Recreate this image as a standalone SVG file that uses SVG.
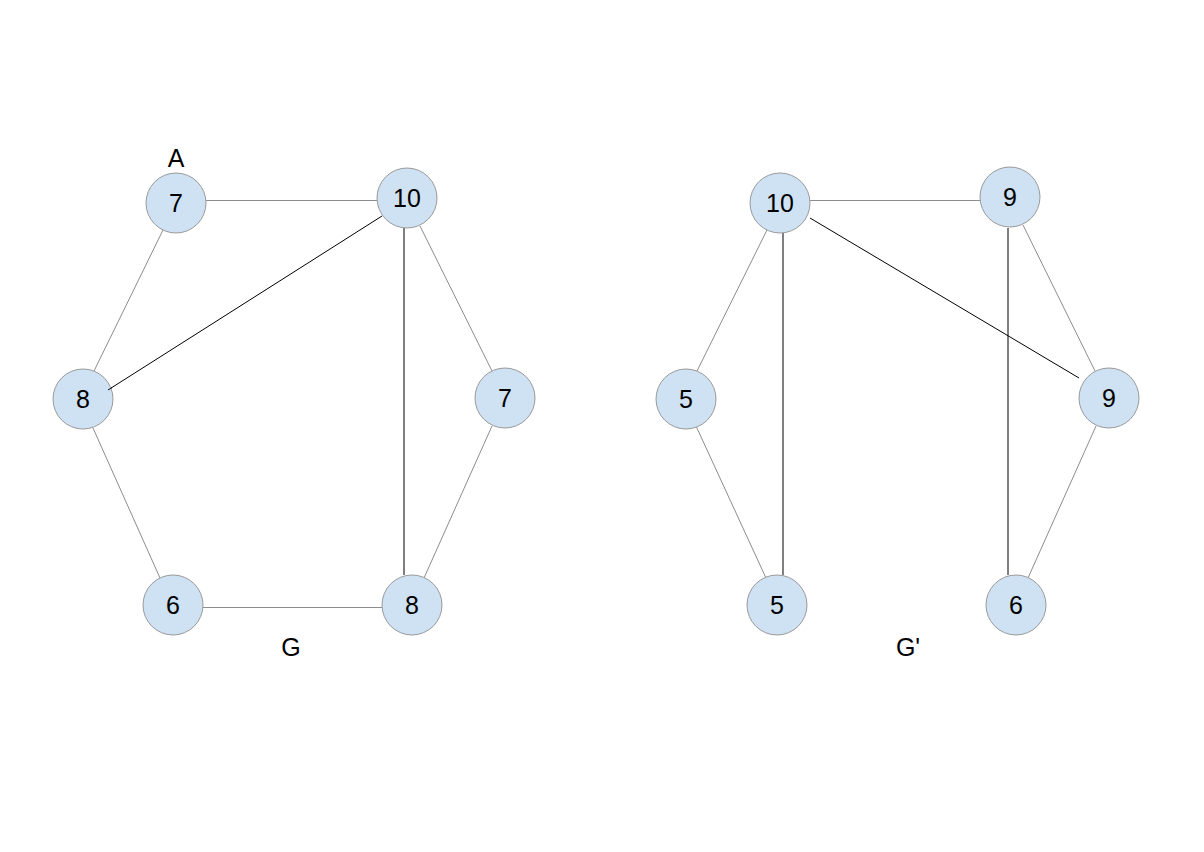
<svg xmlns="http://www.w3.org/2000/svg" width="1204" height="852" viewBox="0 0 1204 852">
<style>
.g{stroke:#8c8c8c;stroke-width:1;fill:none}
.k{stroke:#000;stroke-width:1;fill:none}
.n{fill:#cfe2f3;stroke:#999;stroke-width:1}
text{font-family:"Liberation Sans",Arial,sans-serif;font-size:25px;fill:#000;text-anchor:middle;dominant-baseline:central}
</style>
<rect width="1204" height="852" fill="#fff"/>
<g id="connectors">
<line class="g" x1="206" y1="200.5" x2="377" y2="200.5"/>
<line class="g" x1="163" y1="230" x2="94" y2="371"/>
<line class="g" x1="93" y1="428" x2="160" y2="578"/>
<line class="g" x1="203" y1="607.5" x2="382" y2="607.5"/>
<line class="g" x1="420" y1="226" x2="492" y2="371"/>
<line class="g" x1="492" y1="426" x2="424" y2="578"/>
<line class="k" x1="108" y1="390" x2="382" y2="216"/>
<line class="k" x1="404" y1="228" x2="404" y2="575"/>
<line class="g" x1="810" y1="200.5" x2="980" y2="200.5"/>
<line class="g" x1="767" y1="230" x2="697" y2="371"/>
<line class="g" x1="696" y1="426" x2="766" y2="578"/>
<line class="k" x1="783" y1="233" x2="783" y2="575"/>
<line class="k" x1="810" y1="218" x2="1079" y2="378"/>
<line class="k" x1="1008" y1="228" x2="1008" y2="575"/>
<line class="g" x1="1023" y1="225" x2="1095" y2="371"/>
<line class="g" x1="1096" y1="426" x2="1028" y2="578"/>
</g>
<g id="n1"><circle class="n" cx="176" cy="203" r="30"/><text x="176" y="203">7</text></g>
<g id="n2"><circle class="n" cx="407" cy="198" r="30"/><text x="407" y="198">10</text></g>
<g id="n3"><circle class="n" cx="83" cy="399" r="30"/><text x="83" y="399">8</text></g>
<g id="n4"><circle class="n" cx="505" cy="398" r="30"/><text x="505" y="398">7</text></g>
<g id="n5"><circle class="n" cx="173" cy="605" r="30"/><text x="173" y="605">6</text></g>
<g id="n6"><circle class="n" cx="412" cy="605" r="30"/><text x="412" y="605">8</text></g>
<line class="k" x1="108" y1="390" x2="112" y2="387.5"/>
<g id="m1"><circle class="n" cx="780" cy="203" r="30"/><text x="780" y="203">10</text></g>
<g id="m2"><circle class="n" cx="1010" cy="197" r="30"/><text x="1010" y="197">9</text></g>
<g id="m3"><circle class="n" cx="686" cy="399" r="30"/><text x="686" y="399">5</text></g>
<g id="m4"><circle class="n" cx="1109" cy="398" r="30"/><text x="1109" y="398">9</text></g>
<g id="m5"><circle class="n" cx="777" cy="605" r="30"/><text x="777" y="605">5</text></g>
<g id="m6"><circle class="n" cx="1016" cy="605" r="30"/><text x="1016" y="605">6</text></g>
<g id="labels">
<text x="176" y="158">A</text>
<text x="291" y="647">G</text>
<text x="908" y="647">G'</text>
</g>
</svg>
